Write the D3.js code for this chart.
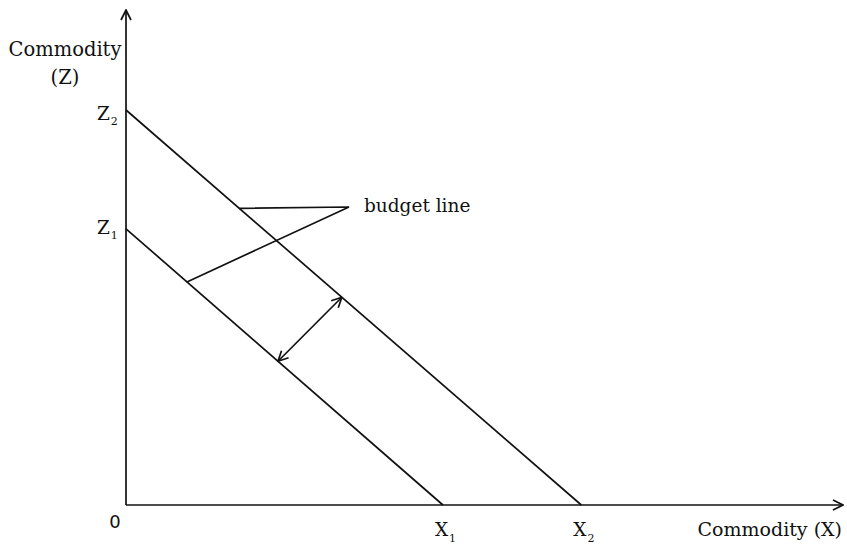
<!DOCTYPE html>
<html><head><meta charset="utf-8">
<script src="https://cdn.jsdelivr.net/npm/d3@7"></script>
<style>body{margin:0;background:#fff}svg{display:block}text{font-family:"DejaVu Serif",serif;fill:#111}</style>
</head><body><svg id="c" width="847" height="548"></svg>
<script>
// Data (abstract units)
const lineNames = ["Z1X1", "Z2X2"];
const zIntercepts = [55.8, 79.8];
const xIntercepts = [44.2, 63.5];
const zLabels = ["Z", "Z"], zSubs = ["1", "2"];
const xLabels = ["X", "X"], xSubs = ["1", "2"];
const xAxisTitle = "Commodity (X)";
const yAxisTitle = ["Commodity", "(Z)"];
const annotationText = "budget line";
const leaderX = [15.8, 8.5];       // x positions where leaders touch the lines (Z2X2, Z1X1)
const leaderAnchor = [31.1, 60.2]; // label anchor point
const shiftArrowX = [30.1, 21.2];  // double arrow ends on Z2X2 and Z1X1

const svg = d3.select("#c");
const x = d3.scaleLinear().domain([0, 100]).range([126, 843]);
const y = d3.scaleLinear().domain([0, 100]).range([505, 10]);
const lineY = (i, xv) => zIntercepts[i] * (1 - xv / xIntercepts[i]);

const defs = svg.append("defs");
defs.append("marker").attr("id", "ah").attr("viewBox", "0 0 12 12").attr("refX", 11).attr("refY", 6)
  .attr("markerWidth", 12).attr("markerHeight", 12).attr("markerUnits", "userSpaceOnUse").attr("orient", "auto-start-reverse")
  .append("path").attr("d", "M1,1 L11,6 L1,11").attr("fill", "none").attr("stroke", "#111").attr("stroke-width", 1.7);

const g = svg.append("g").attr("stroke", "#111").attr("fill", "none").attr("stroke-width", 1.7);
// axes
g.append("line").attr("x1", x(0)).attr("y1", y(0)).attr("x2", x(0)).attr("y2", y(100)).attr("marker-end", "url(#ah)");
g.append("line").attr("x1", x(0)).attr("y1", y(0)).attr("x2", x(100)).attr("y2", y(0)).attr("marker-end", "url(#ah)");
// budget lines
g.selectAll(".bl").data(lineNames).join("line").attr("class", "bl")
  .attr("x1", x(0)).attr("y1", (d, i) => y(zIntercepts[i]))
  .attr("x2", (d, i) => x(xIntercepts[i])).attr("y2", y(0));
// leaders
const p1 = [x(leaderX[0]), y(lineY(1, leaderX[0]))];
const p2 = [x(leaderX[1]), y(lineY(0, leaderX[1]))];
const pa = [x(leaderAnchor[0]), y(leaderAnchor[1])];
g.append("polyline").attr("points", [p1, pa, p2].map(p => p.join(",")).join(" ")).attr("stroke-linejoin", "miter");
// double arrow
g.append("line").attr("x1", x(shiftArrowX[0])).attr("y1", y(lineY(1, shiftArrowX[0])))
  .attr("x2", x(shiftArrowX[1])).attr("y2", y(lineY(0, shiftArrowX[1])))
  .attr("marker-start", "url(#ah)").attr("marker-end", "url(#ah)");

// labels
const fs = 18.5;
svg.append("text").attr("x", 65).attr("y", 56).attr("text-anchor", "middle").attr("font-size", 19.5).text(yAxisTitle[0]);
svg.append("text").attr("x", 65).attr("y", 84).attr("text-anchor", "middle").attr("font-size", 19.5).text(yAxisTitle[1]);
svg.append("text").attr("x", 842).attr("y", 536).attr("text-anchor", "end").attr("font-size", 19).text(xAxisTitle);
svg.append("text").attr("x", 115).attr("y", 528).attr("text-anchor", "middle").attr("font-size", 18)
  .style("font-family", "'DejaVu Sans',sans-serif").text("0");
svg.append("text").attr("x", x(leaderAnchor[0]) + 15).attr("y", y(leaderAnchor[1]) + 5).attr("font-size", fs).text(annotationText);

const zDy = [5, 10];
zIntercepts.forEach((v, i) => {
  const t = svg.append("text").attr("x", 97).attr("y", y(v) + zDy[i]).attr("font-size", fs);
  t.append("tspan").text(zLabels[i]);
  t.append("tspan").attr("font-size", 11).attr("dy", 5).attr("dx", 1).text(zSubs[i]);
});
xIntercepts.forEach((v, i) => {
  const t = svg.append("text").attr("x", x(v) - 8).attr("y", y(0) + 31).attr("font-size", fs);
  t.append("tspan").text(xLabels[i]);
  t.append("tspan").attr("font-size", 11).attr("dy", 6).attr("dx", 1).text(xSubs[i]);
});
</script></body></html>
